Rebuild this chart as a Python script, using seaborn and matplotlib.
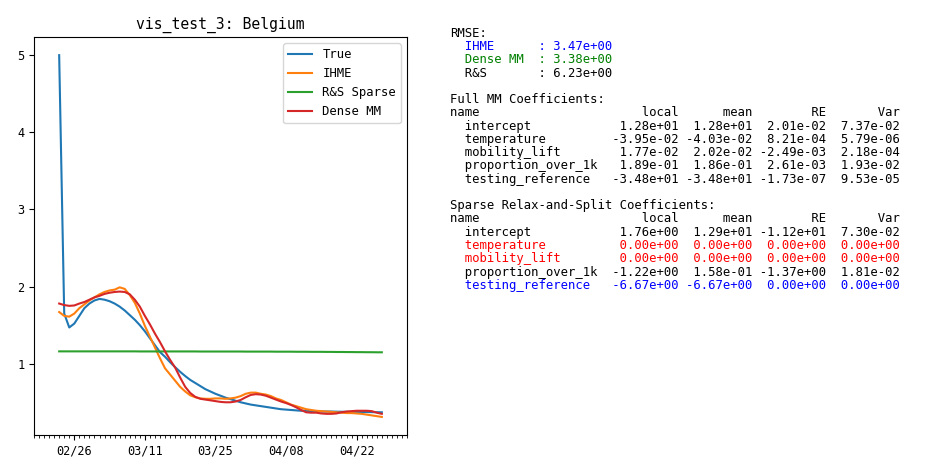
# Visualization
import pandas as pd
import numpy as np
import matplotlib
matplotlib.use("Agg")
import matplotlib.pyplot as plt
import matplotlib.dates as mdates
import seaborn as sns

# Dates of the fit (one value per day)
start_date = "2020-02-23"
tick_dates = ["2020-02-26", "2020-03-11", "2020-03-25", "2020-04-08", "2020-04-22"]

# Series
true_vals = [5.00, 1.65, 1.47, 1.52, 1.62, 1.72, 1.78, 1.82, 1.84, 1.83,
             1.81, 1.78, 1.74, 1.69, 1.63, 1.57, 1.50, 1.42, 1.33, 1.24,
             1.15, 1.09, 1.02, 0.955, 0.895, 0.84, 0.79, 0.75, 0.71, 0.67,
             0.64, 0.61, 0.585, 0.56, 0.54, 0.52, 0.50, 0.485, 0.47, 0.46,
             0.45, 0.44, 0.43, 0.42, 0.41, 0.405, 0.40, 0.395, 0.39, 0.39,
             0.385, 0.385, 0.38, 0.38, 0.38, 0.378, 0.377, 0.376, 0.375, 0.375,
             0.374, 0.373, 0.372, 0.371, 0.37]
ihme_vals = [1.67, 1.62, 1.61, 1.65, 1.72, 1.77, 1.82, 1.86, 1.90, 1.93,
             1.95, 1.96, 1.99, 1.97, 1.89, 1.79, 1.65, 1.49, 1.35, 1.21,
             1.07, 0.94, 0.86, 0.78, 0.70, 0.64, 0.59, 0.565, 0.55, 0.545,
             0.545, 0.55, 0.55, 0.545, 0.55, 0.56, 0.58, 0.61, 0.625, 0.625,
             0.61, 0.60, 0.58, 0.55, 0.53, 0.50, 0.47, 0.45, 0.43, 0.41,
             0.40, 0.39, 0.385, 0.38, 0.375, 0.37, 0.365, 0.36, 0.36, 0.355,
             0.35, 0.34, 0.33, 0.32, 0.31]
rs_vals = [1.160, 1.160, 1.160, 1.160, 1.160, 1.160, 1.160, 1.160, 1.160, 1.160,
           1.160, 1.160, 1.160, 1.160, 1.160, 1.160, 1.159, 1.159, 1.159, 1.159,
           1.159, 1.159, 1.159, 1.159, 1.159, 1.159, 1.159, 1.159, 1.158, 1.158,
           1.158, 1.158, 1.158, 1.158, 1.158, 1.158, 1.158, 1.157, 1.157, 1.157,
           1.157, 1.157, 1.157, 1.156, 1.156, 1.156, 1.156, 1.155, 1.155, 1.155,
           1.154, 1.154, 1.154, 1.153, 1.153, 1.152, 1.152, 1.151, 1.151, 1.150,
           1.150, 1.149, 1.149, 1.148, 1.148]
dense_vals = [1.78, 1.76, 1.75, 1.755, 1.78, 1.80, 1.83, 1.86, 1.88, 1.905,
              1.92, 1.93, 1.935, 1.93, 1.90, 1.83, 1.74, 1.62, 1.51, 1.39,
              1.28, 1.16, 1.05, 0.95, 0.82, 0.70, 0.62, 0.57, 0.545, 0.535,
              0.525, 0.515, 0.505, 0.50, 0.50, 0.51, 0.53, 0.565, 0.595, 0.605,
              0.60, 0.585, 0.56, 0.535, 0.51, 0.49, 0.465, 0.435, 0.40, 0.37,
              0.365, 0.365, 0.355, 0.35, 0.35, 0.355, 0.37, 0.38, 0.385, 0.39,
              0.39, 0.39, 0.385, 0.365, 0.35]

series_labels = ["True", "IHME", "R&S Sparse", "Dense MM"]

# RMSE block
rmse_names = ["IHME", "Dense MM", "R&S"]
rmse_vals = [3.47, 3.38, 6.23]
rmse_colors = ["blue", "green", "black"]

# Coefficient tables
coef_names = ["intercept", "temperature", "mobility_lift", "proportion_over_1k", "testing_reference"]
full_local = [1.28e+01, -3.95e-02, 1.77e-02, 1.89e-01, -3.48e+01]
full_mean = [1.28e+01, -4.03e-02, 2.02e-02, 1.86e-01, -3.48e+01]
full_re = [2.01e-02, 8.21e-04, -2.49e-03, 2.61e-03, -1.73e-07]
full_var = [7.37e-02, 5.79e-06, 2.18e-04, 1.93e-02, 9.53e-05]
sparse_local = [1.76e+00, 0.0, 0.0, -1.22e+00, -6.67e+00]
sparse_mean = [1.29e+01, 0.0, 0.0, 1.58e-01, -6.67e+00]
sparse_re = [-1.12e+01, 0.0, 0.0, -1.37e+00, 0.0]
sparse_var = [7.30e-02, 0.0, 0.0, 1.81e-02, 0.0]
sparse_colors = ["black", "red", "red", "black", "blue"]

plt.rcParams["font.family"] = ["DejaVu Sans Mono"]
plt.rcParams["font.size"] = 8.6

dates = pd.date_range(start_date, periods=len(true_vals), freq="D")
df = pd.DataFrame({"date": dates,
                   "True": true_vals,
                   "IHME": ihme_vals,
                   "R&S Sparse": rs_vals,
                   "Dense MM": dense_vals})
long_df = df.melt(id_vars="date", var_name="series", value_name="value")

fig = plt.figure(figsize=(9.28, 4.76), dpi=100)
ax = fig.add_axes([0.0366, 0.0861, 0.402, 0.836])

sns.lineplot(data=long_df, x="date", y="value", hue="series",
             hue_order=series_labels, palette=sns.color_palette("tab10", 4),
             linewidth=1.5, ax=ax)

ax.set_xlim(pd.Timestamp("2020-02-18"), pd.Timestamp("2020-05-02"))
ax.set_xticks(pd.to_datetime(tick_dates))
ax.xaxis.set_major_formatter(mdates.DateFormatter("%m/%d"))
ax.xaxis.set_minor_locator(mdates.DayLocator())
ax.set_xlabel("")
ax.set_ylabel("")
ax.set_yticks([1, 2, 3, 4, 5])
ax.set_title("vis_test_3: Belgium", fontsize=10.6)
ax.legend(loc="upper right", fontsize=8.8)

# Text report on the right, one line at a time
x0 = 450 / 928
line_h = 13.27
y_start = 33.2

def put_line(i, txt, color="black"):
    y = 1 - (y_start + i * line_h) / 476
    fig.text(x0, y, txt, color=color, va="center", ha="left", fontsize=8.85)

put_line(0, "RMSE:")
for k, (n, v, c) in enumerate(zip(rmse_names, rmse_vals, rmse_colors)):
    put_line(1 + k, f"  {n:<10}: {v:.2e}", c)

header = f"{'name':<21}{'local':>10}{'mean':>10}{'RE':>10}{'Var':>10}"

put_line(5, "Full MM Coefficients:")
put_line(6, header)
for k, n in enumerate(coef_names):
    row = f"  {n:<19}{full_local[k]:>10.2e}{full_mean[k]:>10.2e}{full_re[k]:>10.2e}{full_var[k]:>10.2e}"
    put_line(7 + k, row)

put_line(13, "Sparse Relax-and-Split Coefficients:")
put_line(14, header)
for k, n in enumerate(coef_names):
    row = f"  {n:<19}{sparse_local[k]:>10.2e}{sparse_mean[k]:>10.2e}{sparse_re[k]:>10.2e}{sparse_var[k]:>10.2e}"
    put_line(15 + k, row, sparse_colors[k])

plt.savefig("out.png", dpi=100)
